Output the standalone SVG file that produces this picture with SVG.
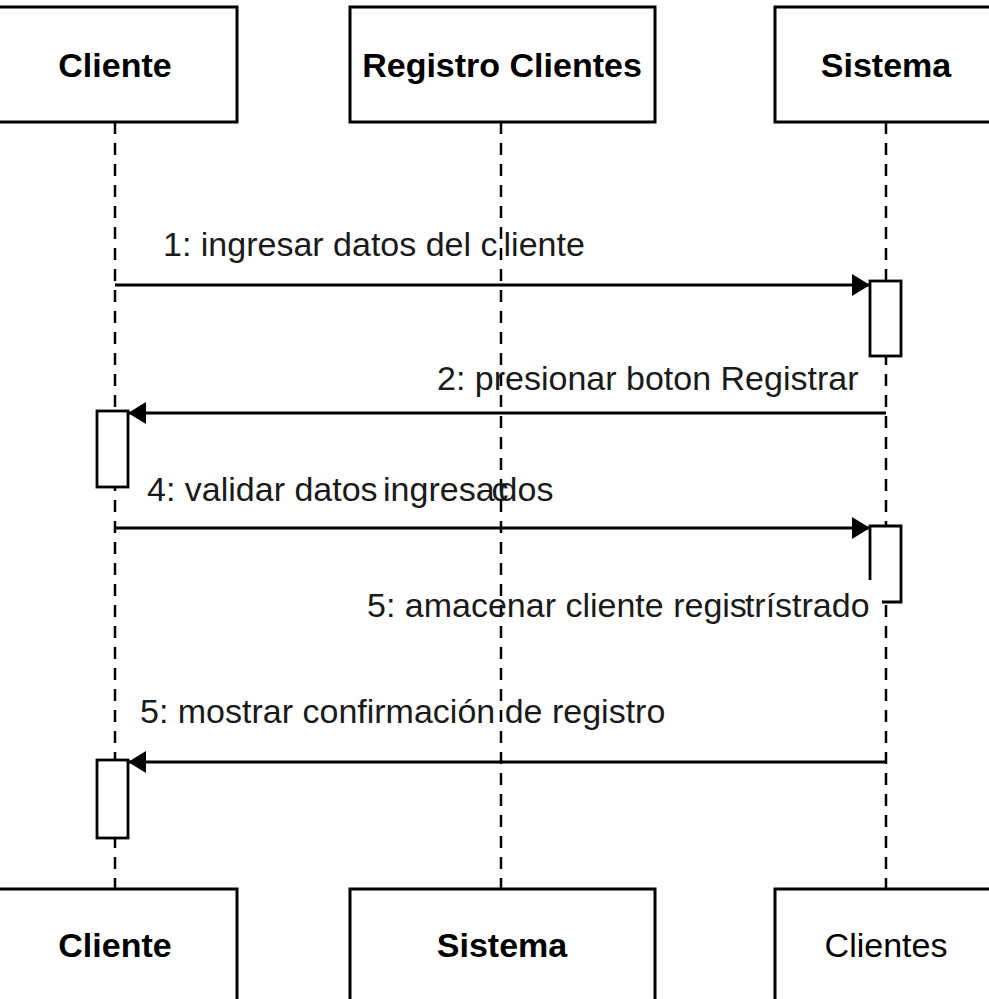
<svg xmlns="http://www.w3.org/2000/svg" width="989" height="999" viewBox="0 0 989 999">
  <defs>
    <marker id="head" viewBox="0 0 18 22" refX="18" refY="11" markerWidth="18" markerHeight="22" markerUnits="userSpaceOnUse" orient="auto">
      <path d="M0,0 L18,11 L0,22 Z" fill="#000"/>
    </marker>
    <style>
      .box { fill: #fff; stroke: #000; stroke-width: 3; }
      .act { fill: #fff; stroke: #000; stroke-width: 2.8; }
      .life { stroke: #000; stroke-width: 2.5; stroke-dasharray: 12 9; fill: none; }
      .msg { stroke: #000; stroke-width: 2.8; fill: none; marker-end: url(#head); }
      .title { font-family: "Liberation Sans", Arial, sans-serif; font-size: 34px; font-weight: bold; text-anchor: middle; fill: #000; }
      .plain { font-family: "Liberation Sans", Arial, sans-serif; font-size: 34px; text-anchor: middle; fill: #000; }
      .lbl { font-family: "Liberation Sans", Arial, sans-serif; font-size: 34px; fill: #1a1a1a; }
    </style>
  </defs>
  <rect width="989" height="999" fill="#fff"/>

  <!-- lifelines -->
  <g id="lifelines">
    <line class="life" x1="115" y1="122" x2="115" y2="889"/>
    <line class="life" x1="501" y1="122" x2="501" y2="889"/>
    <line class="life" x1="886" y1="122" x2="886" y2="889"/>
  </g>

  <!-- participants (top) -->
  <g id="cliente-top">
    <rect class="box" x="-10" y="7" width="247" height="115"/>
    <text class="title" x="115" y="77">Cliente</text>
  </g>
  <g id="registro-top">
    <rect class="box" x="350" y="7" width="305" height="115"/>
    <text class="title" x="502" y="77">Registro Clientes</text>
  </g>
  <g id="sistema-top">
    <rect class="box" x="775" y="7" width="230" height="115"/>
    <text class="title" x="886" y="77">Sistema</text>
  </g>

  <!-- participants (bottom) -->
  <g id="cliente-bottom">
    <rect class="box" x="-10" y="889" width="247" height="130"/>
    <text class="title" x="115" y="957">Cliente</text>
  </g>
  <g id="sistema-bottom">
    <rect class="box" x="350" y="889" width="305" height="130"/>
    <text class="title" x="502" y="957">Sistema</text>
  </g>
  <g id="clientes-bottom">
    <rect class="box" x="775" y="889" width="230" height="130"/>
    <text class="plain" x="886" y="957">Clientes</text>
  </g>

  <!-- activation bars -->
  <g id="act-sistema-1"><rect class="act" x="870" y="281" width="31" height="75"/></g>
  <g id="act-cliente-1"><rect class="act" x="97" y="411" width="31" height="76"/></g>
  <g id="act-sistema-2"><path class="act" d="M870,580 V526 H901 V602 H882"/></g>
  <g id="act-cliente-2"><rect class="act" x="97" y="760" width="31" height="78"/></g>

  <!-- messages -->
  <g id="connectors">
    <line class="msg" x1="115" y1="285" x2="870" y2="285"/>
    <line class="msg" x1="886" y1="413" x2="128" y2="413"/>
    <line class="msg" x1="115" y1="528" x2="870" y2="528"/>
    <line class="msg" x1="886" y1="762" x2="128" y2="762"/>
  </g>

  <!-- message labels -->
  <g id="labels">
    <text class="lbl" x="163" y="256">1: ingresar datos del c<tspan dx="6">liente</tspan></text>
    <text class="lbl" x="437" y="390">2: presionar boton Registrar</text>
    <text class="lbl" x="147" y="501">4: validar datos<tspan dx="-4"> ingresa</tspan><tspan dx="-3">c</tspan><tspan dx="-10">dos</tspan></text>
    <text class="lbl" x="367" y="617">5: amacenar cliente regis<tspan dx="-2">trístrado</tspan></text>
    <text class="lbl" x="140" y="723">5: mostrar confirmación de registro</text>
  </g>
</svg>
